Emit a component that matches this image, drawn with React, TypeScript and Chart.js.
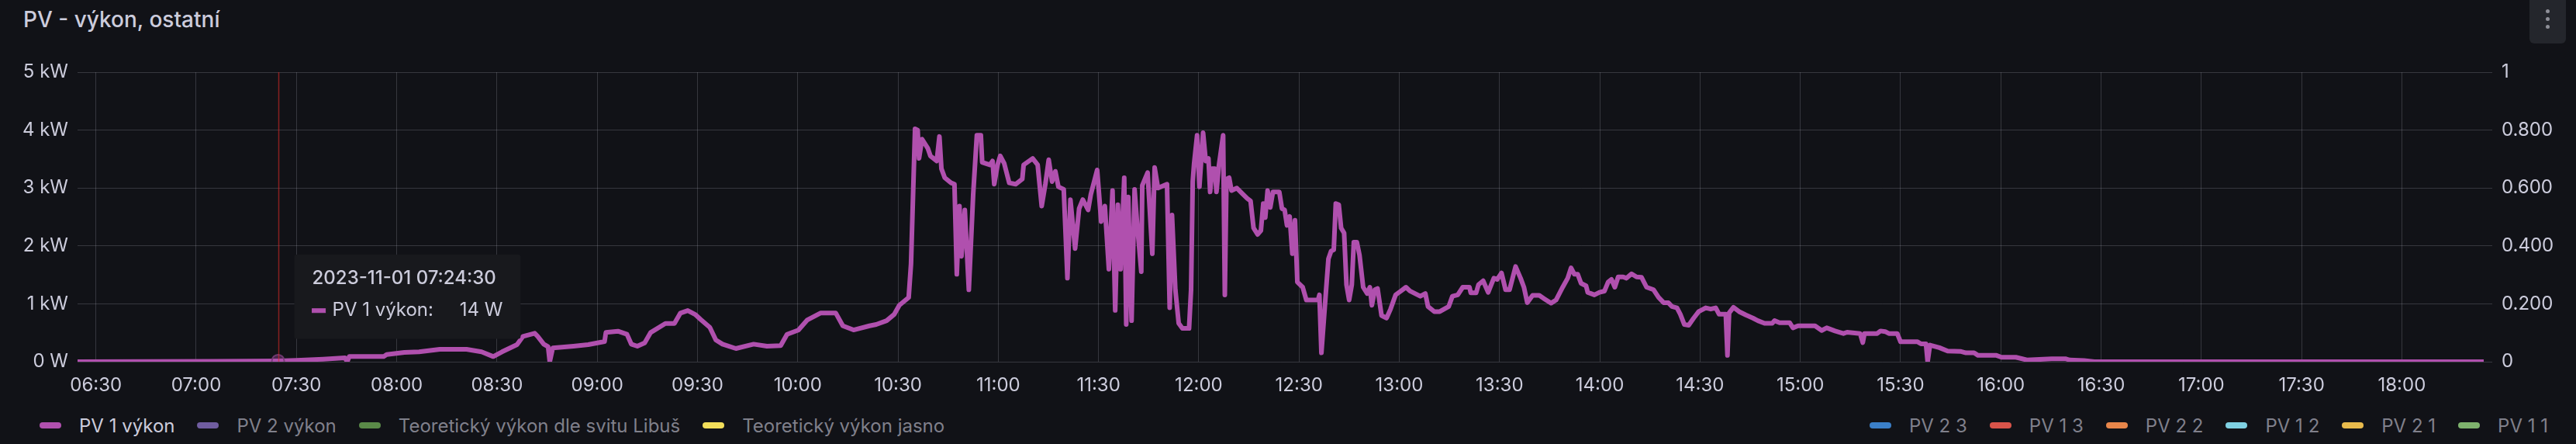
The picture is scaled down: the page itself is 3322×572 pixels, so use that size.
import { useEffect, useRef } from 'react';
import { Chart, registerables, Tooltip } from 'chart.js';

Chart.register(...registerables);

// PV 1 výkon (time of day, watts)
const pv1Times = [
  '06:24:30', '06:45:00', '07:05:00', '07:15:00', '07:24:30', '07:30:00', '07:38:00', '07:44:30', '07:45:12', '07:45:48',
  '07:56:06', '07:57:00', '08:02:18', '08:06:42', '08:12:54', '08:20:54', '08:25:24', '08:28:54', '08:31:30', '08:36:00',
  '08:37:48', '08:41:18', '08:42:12', '08:44:00', '08:45:18', '08:45:48', '08:46:42', '08:52:54', '08:57:18', '09:02:12',
  '09:02:36', '09:06:12', '09:08:54', '09:10:12', '09:12:00', '09:14:12', '09:16:00', '09:20:24', '09:23:06', '09:24:54',
  '09:27:06', '09:29:18', '09:31:00', '09:33:42', '09:35:30', '09:37:30', '09:41:30', '09:46:48', '09:50:48', '09:54:54',
  '09:56:48', '10:00:12', '10:02:48', '10:06:48', '10:11:24', '10:13:30', '10:16:42', '10:21:30', '10:23:30', '10:26:36',
  '10:28:54', '10:30:24', '10:33:12', '10:33:54', '10:34:42', '10:35:06', '10:35:54', '10:36:18', '10:37:12', '10:38:54',
  '10:39:42', '10:41:36', '10:42:24', '10:43:00', '10:44:00', '10:45:54', '10:46:54', '10:47:36', '10:48:24', '10:49:00',
  '10:50:00', '10:51:12', '10:52:30', '10:53:36', '10:54:48', '10:55:12', '10:57:30', '10:58:18', '10:58:48', '10:59:48',
  '11:00:36', '11:01:48', '11:03:18', '11:05:12', '11:07:12', '11:07:36', '11:10:18', '11:11:48', '11:13:00', '11:14:06',
  '11:15:06', '11:16:06', '11:17:06', '11:18:00', '11:19:36', '11:20:42', '11:21:36', '11:23:00', '11:24:12', '11:25:18',
  '11:26:54', '11:27:42', '11:29:36', '11:30:48', '11:31:54', '11:33:06', '11:34:12', '11:35:00', '11:35:48', '11:36:36',
  '11:37:42', '11:38:18', '11:38:54', '11:39:54', '11:40:48', '11:41:36', '11:42:48', '11:43:06', '11:44:42', '11:46:06',
  '11:46:48', '11:47:48', '11:50:30', '11:51:18', '11:52:00', '11:53:00', '11:54:00', '11:55:06', '11:57:06', '11:57:42',
  '11:58:12', '11:58:36', '11:59:30', '12:00:12', '12:01:18', '12:02:06', '12:02:54', '12:03:24', '12:04:00', '12:04:48',
  '12:05:18', '12:06:00', '12:07:18', '12:07:48', '12:08:18', '12:09:06', '12:09:48', '12:11:24', '12:12:54', '12:14:30',
  '12:15:30', '12:16:24', '12:17:36', '12:18:36', '12:19:18', '12:19:54', '12:20:36', '12:21:24', '12:22:12', '12:24:06',
  '12:24:54', '12:25:42', '12:26:24', '12:27:12', '12:28:00', '12:28:48', '12:29:30', '12:31:06', '12:32:12', '12:35:42',
  '12:36:06', '12:36:42', '12:37:42', '12:38:48', '12:39:36', '12:40:24', '12:41:00', '12:41:54', '12:42:36', '12:43:30',
  '12:44:12', '12:45:00', '12:45:48', '12:46:24', '12:47:18', '12:48:06', '12:49:12', '12:50:24', '12:51:12', '12:51:48',
  '12:52:42', '12:53:30', '12:54:42', '12:56:12', '12:57:24', '12:58:54', '13:00:30', '13:02:00', '13:03:12', '13:06:18',
  '13:07:48', '13:08:36', '13:10:30', '13:12:06', '13:14:48', '13:15:54', '13:17:30', '13:19:00', '13:21:00', '13:21:24',
  '13:23:00', '13:23:42', '13:25:06', '13:26:36', '13:28:18', '13:29:18', '13:30:36', '13:31:48', '13:33:00', '13:34:48',
  '13:36:18', '13:37:18', '13:38:18', '13:39:54', '13:41:54', '13:43:24', '13:45:24', '13:46:54', '13:48:54', '13:50:24',
  '13:51:24', '13:52:24', '13:53:24', '13:54:24', '13:55:54', '13:56:24', '13:58:24', '13:59:54', '14:01:24', '14:02:30',
  '14:03:30', '14:04:30', '14:05:30', '14:07:00', '14:08:00', '14:09:30', '14:11:00', '14:12:30', '14:14:00', '14:16:06',
  '14:17:36', '14:19:06', '14:20:30', '14:21:36', '14:23:06', '14:24:06', '14:25:18', '14:26:36', '14:28:06', '14:29:36',
  '14:31:42', '14:33:12', '14:34:42', '14:35:42', '14:37:42', '14:38:12', '14:38:42', '14:40:00', '14:41:42', '14:43:42',
  '14:45:48', '14:47:18', '14:49:18', '14:51:36', '14:52:18', '14:53:48', '14:56:48', '14:57:48', '14:59:18', '15:04:24',
  '15:06:24', '15:07:54', '15:10:24', '15:12:54', '15:14:00', '15:17:54', '15:18:42', '15:19:12', '15:23:00', '15:24:00',
  '15:25:24', '15:26:30', '15:29:00', '15:30:00', '15:35:06', '15:36:06', '15:37:36', '15:38:06', '15:38:48', '15:41:36',
  '15:44:06', '15:48:06', '15:49:36', '15:52:00', '15:53:12', '15:58:42', '16:00:12', '16:04:30', '16:07:48', '16:15:12',
  '16:19:30', '16:20:36', '16:24:54', '16:28:00', '18:24:30',
];

const pv1Watts = [
  0, 2, 6, 9, 14, 23, 45, 67, 0, 89,
  89, 125, 160, 170, 214, 214, 170, 89, 170, 295,
  438, 491, 438, 304, 259, 0, 237, 268, 295, 348,
  505, 527, 474, 304, 268, 326, 505, 661, 661, 840,
  884, 817, 728, 594, 375, 303, 228, 303, 268, 277,
  473, 547, 718, 840, 840, 620, 549, 620, 643, 709,
  820, 976, 1110, 1688, 3244, 4022, 4000, 3511, 3844, 3689,
  3555, 3466, 3889, 3333, 3177, 3088, 3066, 1510, 2688, 1821,
  2621, 1243, 2888, 3911, 3911, 3444, 3399, 3466, 3066, 3399,
  3555, 3422, 3088, 3066, 3155, 3399, 3511, 3399, 2688, 3066,
  3488, 3111, 3288, 3021, 2977, 1443, 2799, 1954, 2644, 2799,
  2621, 2888, 3311, 2421, 2688, 1598, 2955, 887, 2711, 1598,
  3177, 643, 2844, 709, 2977, 2354, 1554, 3044, 3266, 1865,
  3355, 2999, 3066, 931, 2532, 1243, 664, 576, 576, 1243,
  3111, 3422, 3911, 3021, 3955, 3466, 3511, 2932, 3333, 3333,
  2932, 3377, 3911, 1154, 3155, 3177, 2955, 2999, 2911, 2821,
  2777, 2310, 2198, 2265, 2732, 2488, 2955, 2665, 2932, 2932,
  2644, 2621, 2354, 2510, 1865, 2443, 1376, 1287, 1065, 1065,
  1154, 153, 931, 1777, 1910, 1932, 2732, 2710, 2310, 2221,
  1331, 1065, 1331, 2065, 2065, 1843, 1287, 1177, 1287, 976,
  1243, 1265, 798, 754, 910, 1154, 1221, 1287, 1221, 1131,
  1177, 954, 865, 865, 954, 1131, 1154, 1287, 1287, 1190,
  1190, 1331, 1398, 1198, 1443, 1421, 1532, 1243, 1243, 1643,
  1443, 1287, 1020, 1145, 1145, 1087, 1011, 1065, 1287, 1443,
  1621, 1510, 1510, 1354, 1310, 1198, 1154, 1198, 1220, 1377,
  1421, 1287, 1465, 1465, 1443, 1518, 1465, 1457, 1287, 1243,
  1110, 1020, 1020, 954, 931, 820, 643, 630, 754, 865,
  931, 909, 931, 820, 820, 109, 843, 940, 865, 807,
  754, 709, 664, 664, 709, 674, 674, 585, 620, 620,
  540, 585, 531, 487, 509, 487, 331, 487, 487, 531,
  520, 487, 487, 344, 344, 309, 309, 0, 287, 243,
  184, 176, 153, 153, 109, 109, 77, 77, 30, 49,
  49, 30, 20, 0, 0,
];

const seriesNames = [
  'PV 1 výkon', 'PV 2 výkon', 'Teoretický výkon dle svitu Libuš', 'Teoretický výkon jasno',
  'PV 2 3', 'PV 1 3', 'PV 2 2', 'PV 1 2', 'PV 2 1', 'PV 1 1',
];
const seriesColors = [
  '#b050ae', '#705da0', '#5a8a48', '#f2de5a',
  '#3b7fc8', '#d9544a', '#e8864a', '#7fd0e2', '#e8ba4c', '#7eb26d',
];
const seriesAxes = ['y', 'y', 'y', 'y', 'y1', 'y1', 'y1', 'y1', 'y1', 'y1'];
const seriesShown = [true, false, false, false, false, false, false, false, false, false];

const rangeStart = '06:24:30';
const rangeEnd = '18:24:30';
const timeTicks = [
  '06:30', '07:00', '07:30', '08:00', '08:30', '09:00', '09:30', '10:00', '10:30', '11:00', '11:30', '12:00',
  '12:30', '13:00', '13:30', '14:00', '14:30', '15:00', '15:30', '16:00', '16:30', '17:00', '17:30', '18:00',
];
const wattTicks = [0, 1000, 2000, 3000, 4000, 5000];
const ratioTicks = [0, 0.2, 0.4, 0.6, 0.8, 1];

const panelTitle = 'PV - výkon, ostatní';
const dateLabel = '2023-11-01';
const hoverTime = '07:24:30';

const BG = '#111217';
const TEXT = 'rgb(204, 204, 220)';
const TEXT_DIM = 'rgba(204, 204, 220, 0.6)';
const GRID = 'rgba(204, 204, 220, 0.2)';
const FONT = 'Inter, "Noto Sans", sans-serif';

const toMinutes = (s: string) => {
  const [h, m, sec = '0'] = s.split(':');
  return Number(h) * 60 + Number(m) + Number(sec) / 60;
};
const pad = (n: number) => String(n).padStart(2, '0');
const formatTime = (mins: number, withSeconds: boolean) => {
  const total = Math.round(mins * 60);
  const h = Math.floor(total / 3600);
  const m = Math.floor((total % 3600) / 60);
  const s = total % 60;
  return withSeconds ? `${pad(h)}:${pad(m)}:${pad(s)}` : `${pad(h)}:${pad(m)}`;
};
const formatWatts = (v: number) => (v === 0 ? '0 W' : `${v / 1000} kW`);
const formatRatio = (v: number) => (v === 0 || v === 1 ? String(v) : v.toFixed(3));

// tooltip sits below-right of the hovered point, like Grafana's
(Tooltip.positioners as any).grafana = function (items: any[]) {
  if (!items.length) return false;
  const chart = (this as any).chart;
  return { x: items[0].element.x + 24, y: chart.chartArea.bottom - 138 };
};

const crosshair = {
  id: 'crosshair',
  afterDatasetsDraw(chart: any) {
    const active = chart.getActiveElements();
    if (!active.length) return;
    const x = Math.round(active[0].element.x) + 0.5;
    const { top, bottom } = chart.chartArea;
    const ctx = chart.ctx;
    ctx.save();
    ctx.strokeStyle = 'rgba(215, 40, 40, 0.6)';
    ctx.lineWidth = 1.5;
    ctx.beginPath();
    ctx.moveTo(x, top);
    ctx.lineTo(x, bottom);
    ctx.stroke();
    ctx.restore();
  },
};

const PvChart = () => {
  const chartRef = useRef<HTMLCanvasElement | null>(null);
  const chartInstance = useRef<Chart | null>(null);

  useEffect(() => {
    if (!chartRef.current) return;
    const ctx = chartRef.current.getContext('2d');
    if (!ctx) return;

    const datasets = seriesNames.map((name, i) => ({
      label: name,
      data: i === 0 ? pv1Times.map((t, j) => ({ x: toMinutes(t), y: pv1Watts[j] })) : [],
      yAxisID: seriesAxes[i],
      hidden: !seriesShown[i],
      borderColor: seriesColors[i],
      backgroundColor: seriesColors[i],
      borderWidth: 6,
      borderJoinStyle: 'round',
      tension: 0,
      pointRadius: 0,
      pointHoverRadius: 8,
      pointHoverBorderWidth: 2,
      pointHoverBackgroundColor: 'rgba(176, 80, 174, 0.35)',
      pointHoverBorderColor: 'rgba(120, 60, 120, 0.9)',
    }));

    chartInstance.current = new Chart(ctx, {
      type: 'line',
      data: { datasets },
      plugins: [crosshair],
      options: {
        responsive: false,
        animation: false,
        events: [],
        layout: { padding: { top: 93, left: 0, right: 0, bottom: 0 } },
        font: { family: FONT, size: 24 },
        plugins: {
          legend: { display: false },
          title: { display: false },
          tooltip: {
            position: 'grafana' as any,
            xAlign: 'left',
            yAlign: 'top',
            caretSize: 0,
            caretPadding: 0,
            cornerRadius: 3,
            backgroundColor: '#18191d',
            titleColor: TEXT,
            bodyColor: TEXT,
            titleFont: { family: FONT, size: 24, weight: 500 },
            bodyFont: { family: FONT, size: 24 },
            titleMarginBottom: 13,
            padding: { top: 16, bottom: 22, left: 23, right: 23 },
            boxWidth: 17,
            boxHeight: 5,
            boxPadding: 7,
            multiKeyBackground: seriesColors[0],
            callbacks: {
              title: (items: any[]) => `${dateLabel} ${formatTime(items[0].parsed.x, true)}`,
              label: (item: any) => `${item.dataset.label}:     ${item.parsed.y} W`,
              labelColor: () => ({ borderColor: seriesColors[0], backgroundColor: seriesColors[0], borderWidth: 0 }),
            },
          },
        },
        scales: {
          x: {
            type: 'linear',
            min: toMinutes(rangeStart),
            max: toMinutes(rangeEnd),
            afterBuildTicks: (axis: any) => {
              axis.ticks = timeTicks.map((t) => ({ value: toMinutes(t) }));
            },
            afterFit: (axis: any) => {
              axis.height = 54;
            },
            border: { display: false },
            grid: { color: GRID, lineWidth: 1, drawTicks: false },
            ticks: {
              color: TEXT,
              font: { family: FONT, size: 24 },
              padding: 16,
              maxRotation: 0,
              autoSkip: false,
              callback: (v: any) => formatTime(Number(v), false),
            },
          },
          y: {
            type: 'linear',
            position: 'left',
            min: 0,
            max: 5000,
            afterBuildTicks: (axis: any) => {
              axis.ticks = wattTicks.map((v) => ({ value: v }));
            },
            afterFit: (axis: any) => {
              axis.width = 100;
            },
            border: { display: false },
            grid: { color: GRID, lineWidth: 1, drawTicks: false },
            ticks: {
              color: TEXT,
              font: { family: FONT, size: 24 },
              padding: 12,
              callback: (v: any) => formatWatts(Number(v)),
            },
          },
          y1: {
            type: 'linear',
            position: 'right',
            min: 0,
            max: 1,
            afterBuildTicks: (axis: any) => {
              axis.ticks = ratioTicks.map((v) => ({ value: v }));
            },
            afterFit: (axis: any) => {
              axis.width = 119;
            },
            border: { display: false },
            grid: { color: GRID, lineWidth: 1, drawOnChartArea: false, drawTicks: true, tickLength: 11 },
            ticks: {
              color: TEXT,
              font: { family: FONT, size: 24 },
              padding: 12,
              callback: (v: any) => formatRatio(Number(v)),
            },
          },
        },
      } as any,
    });

    const chart = chartInstance.current;
    const index = pv1Times.indexOf(hoverTime);
    const active = [{ datasetIndex: 0, index }];
    chart.setActiveElements(active);
    chart.tooltip?.setActiveElements(active, { x: 0, y: 0 });
    chart.update();

    return () => {
      if (chartInstance.current) {
        chartInstance.current.destroy();
        chartInstance.current = null;
      }
    };
  }, []);

  return <canvas ref={chartRef} width={3322} height={520} style={{ position: 'absolute', left: 0, top: 0, width: 3322, height: 520 }} />;
};

const LegendItem = ({ i, last }: { i: number; last: boolean }) => (
  <div style={{ display: 'flex', alignItems: 'center', marginRight: last ? 0 : 29 }}>
    <span style={{ width: 28, height: 8, borderRadius: 4, background: seriesColors[i], marginRight: 23, display: 'inline-block' }} />
    <span style={{ color: seriesShown[i] ? TEXT : TEXT_DIM, whiteSpace: 'pre' }}>{seriesNames[i]}</span>
  </div>
);

const App = () => {
  const leftIdx = seriesNames.map((_, i) => i).filter((i) => seriesAxes[i] === 'y');
  const rightIdx = seriesNames.map((_, i) => i).filter((i) => seriesAxes[i] === 'y1');
  return (
    <div style={{ position: 'absolute', left: 0, top: 0, width: 3322, height: 572, background: BG, overflow: 'hidden', fontFamily: FONT }}>
      <div style={{ position: 'absolute', left: 30, top: 7, fontSize: 28, lineHeight: '36px', fontWeight: 500, color: TEXT }}>{panelTitle}</div>
      <div style={{ position: 'absolute', left: 3262, top: -6, width: 47, height: 62, borderRadius: 6, background: '#24262c' }}>
        {[14, 24, 34].map((y) => (
          <span key={y} style={{ position: 'absolute', left: 21, top: y + 6 - 2.5, width: 5, height: 5, borderRadius: 3, background: '#8e8f98' }} />
        ))}
      </div>
      <PvChart />
      <div style={{ position: 'absolute', left: 51, top: 533, height: 30, display: 'flex', alignItems: 'center', fontSize: 24 }}>
        {leftIdx.map((i, k) => (
          <LegendItem key={i} i={i} last={k === leftIdx.length - 1} />
        ))}
      </div>
      <div style={{ position: 'absolute', right: 36, top: 533, height: 30, display: 'flex', alignItems: 'center', fontSize: 24 }}>
        {rightIdx.map((i, k) => (
          <LegendItem key={i} i={i} last={k === rightIdx.length - 1} />
        ))}
      </div>
    </div>
  );
};

export default App;
